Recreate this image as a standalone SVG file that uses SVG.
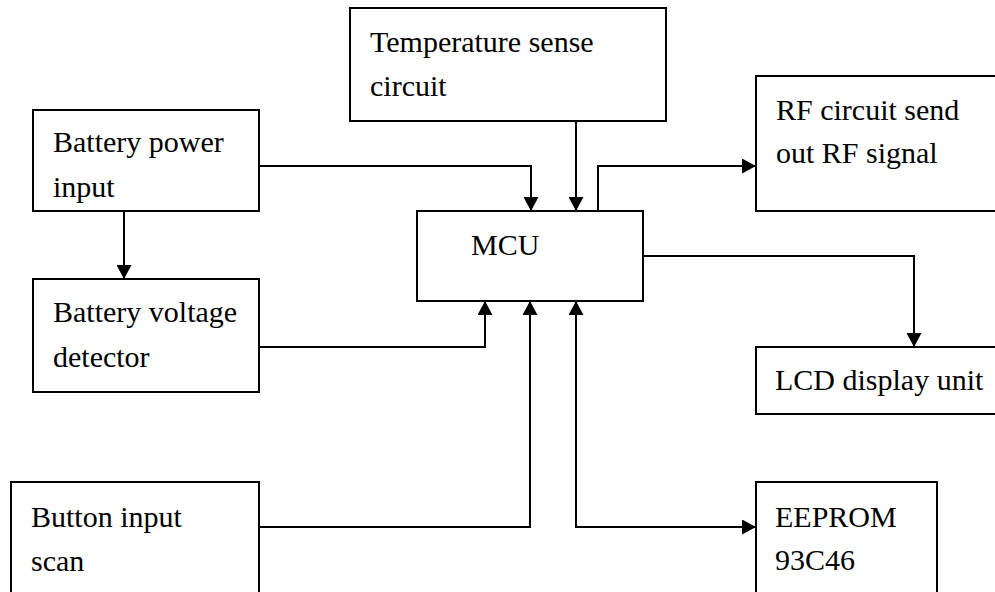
<svg xmlns="http://www.w3.org/2000/svg" width="995" height="592" viewBox="0 0 995 592">
<style>
.box{fill:#fff;stroke:#000;stroke-width:2}
.lbl{font-family:"Liberation Serif","Times New Roman","DejaVu Serif",serif;font-size:30px;fill:#000}
.con{fill:none;stroke:#000;stroke-width:2}
</style>
<defs>
<marker id="ah" markerUnits="userSpaceOnUse" markerWidth="15" markerHeight="15" refX="14" refY="7.5" orient="auto-start-reverse" viewBox="0 0 15 15">
<path d="M0,0 L14,7.5 L0,15 z" fill="#000"/>
</marker>
</defs>
<rect width="995" height="592" fill="#fff"/>
<g id="connectors">
<path class="con" d="M259,166 H531 V211" marker-end="url(#ah)"/>
<path class="con" d="M576,121 V211" marker-end="url(#ah)"/>
<path class="con" d="M598,211 V166 H756" marker-end="url(#ah)"/>
<path class="con" d="M643,256 H914 V347" marker-end="url(#ah)"/>
<path class="con" d="M124,211 V279" marker-end="url(#ah)"/>
<path class="con" d="M259,347 H485 V301" marker-end="url(#ah)"/>
<path class="con" d="M259,527 H530 V301" marker-end="url(#ah)"/>
<path class="con" d="M756,527 H576 V301" marker-start="url(#ah)" marker-end="url(#ah)"/>
</g>
<g id="temp">
<rect class="box" x="350" y="8" width="316" height="113"/>
<text class="lbl" x="370" y="52">Temperature sense</text>
<text class="lbl" x="370" y="96">circuit</text>
</g>
<g id="batpow">
<rect class="box" x="33" y="110" width="226" height="101"/>
<text class="lbl" x="53" y="152">Battery power</text>
<text class="lbl" x="53" y="197">input</text>
</g>
<g id="batvolt">
<rect class="box" x="33" y="279" width="226" height="113"/>
<text class="lbl" x="53" y="322">Battery voltage</text>
<text class="lbl" x="53" y="367">detector</text>
</g>
<g id="rf">
<rect class="box" x="756" y="76" width="260" height="135"/>
<text class="lbl" x="776" y="120">RF circuit send</text>
<text class="lbl" x="776" y="163">out RF signal</text>
</g>
<g id="mcu">
<rect class="box" x="417" y="211" width="226" height="90"/>
<text class="lbl" x="471" y="255">MCU</text>
</g>
<g id="lcd">
<rect class="box" x="756" y="347" width="260" height="67"/>
<text class="lbl" x="775" y="390">LCD display unit</text>
</g>
<g id="eeprom">
<rect class="box" x="756" y="482" width="181" height="130"/>
<text class="lbl" x="775" y="527">EEPROM</text>
<text class="lbl" x="775" y="570">93C46</text>
</g>
<g id="button">
<rect class="box" x="11" y="482" width="248" height="130"/>
<text class="lbl" x="31" y="527">Button input</text>
<text class="lbl" x="31" y="571">scan</text>
</g>
</svg>
